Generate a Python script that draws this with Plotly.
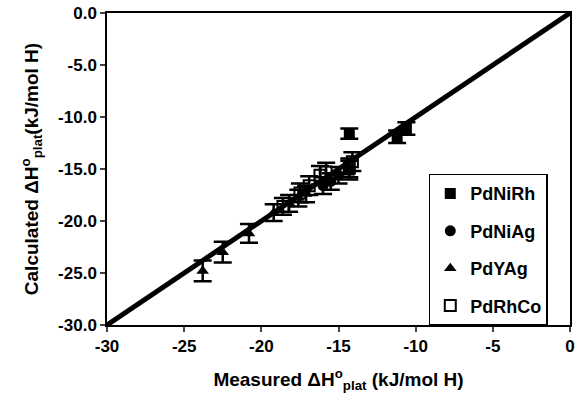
import plotly.graph_objects as go

# Data (kJ/mol H)
nirh_x = [-14.3, -14.3, -11.2, -10.6]
nirh_y = [-11.6, -15.1, -11.9, -11.1]
nirh_err = [0.5, 0.9, 0.6, 0.6]

niag_x = [-16.0, -15.5, -15.0]
niag_y = [-16.6, -16.2, -15.6]
niag_err = [0.8, 0.8, 0.8]

yag_x = [-23.8, -22.5, -20.8, -19.2, -18.2, -17.6, -17.1]
yag_y = [-24.8, -23.0, -21.2, -19.2, -18.3, -17.8, -17.4]
yag_err = [1.0, 1.0, 0.9, 0.8, 0.8, 0.8, 0.8]

rhco_x = [-18.6, -17.5, -16.9, -16.2, -15.8, -14.3, -14.1]
rhco_y = [-18.6, -17.3, -16.6, -15.6, -15.3, -14.9, -14.3]
rhco_err = [0.8, 0.9, 0.9, 0.9, 0.9, 0.9, 0.9]

diag = [-30, 0]

x_ticks = [-30, -25, -20, -15, -10, -5, 0]
x_labels = ["-30", "-25", "-20", "-15", "-10", "-5", "0"]
y_ticks = [0, -5, -10, -15, -20, -25, -30]
y_labels = ["0.0", "-5.0", "-10.0", "-15.0", "-20.0", "-25.0", "-30.0"]

font = "Liberation Sans, Arial, sans-serif"

fig = go.Figure()
fig.add_trace(go.Scatter(x=diag, y=diag, mode="lines",
                         line=dict(color="black", width=5),
                         showlegend=False, hoverinfo="skip"))

def add(name, xs, ys, err, symbol, lw=0):
    fig.add_trace(go.Scatter(
        x=xs, y=ys, mode="markers", name=name, legendgroup=name,
        marker=dict(symbol=symbol, size=11, color="black",
                    line=dict(color="black", width=lw)),
        error_y=dict(type="data", array=err, visible=True,
                     color="black", thickness=2.5, width=9),
    ))

add("PdNiRh", nirh_x, nirh_y, nirh_err, "square")
add("PdNiAg", niag_x, niag_y, niag_err, "circle")
add("PdYAg", yag_x, yag_y, yag_err, "triangle-up")
add("PdRhCo", rhco_x, rhco_y, rhco_err, "square-open", lw=2)

fig.update_layout(
    width=582, height=413,
    margin=dict(l=107, r=12, t=13, b=88),
    paper_bgcolor="white", plot_bgcolor="white",
    font=dict(family=font, size=17, color="black"),
    showlegend=True,
    legend=dict(x=0.695, y=0.485, xanchor="left", yanchor="top",
                bordercolor="black", borderwidth=1.5, bgcolor="white",
                font=dict(family=font, size=18, color="black", weight="bold"),
                tracegroupgap=11),
    xaxis=dict(range=[-30, 0], tickvals=x_ticks, ticktext=x_labels,
               showgrid=False, zeroline=False, showline=True, linecolor="black",
               linewidth=1.5, mirror=True, ticks="outside", ticklen=5, tickwidth=1.5,
               automargin=False,
               tickfont=dict(family=font, size=17, weight="bold"),
               title=dict(text="Measured ΔH<sup>o</sup><sub>plat</sub> (kJ/mol H)",
                          font=dict(family=font, size=19, weight="bold"), standoff=18)),
    yaxis=dict(range=[-30, 0], tickvals=y_ticks, ticktext=y_labels,
               showgrid=False, zeroline=False, showline=True, linecolor="black",
               linewidth=1.5, mirror=True, ticks="outside", ticklen=5, tickwidth=1.5,
               automargin=False,
               tickfont=dict(family=font, size=17, weight="bold"),
               title=dict(text="Calculated ΔH<sup>o</sup><sub>plat</sub>(kJ/mol H)",
                          font=dict(family=font, size=19, weight="bold"), standoff=14)),
)

fig.write_html("out.html", config={"displayModeBar": False},
               post_script="document.body.style.margin='0';")
